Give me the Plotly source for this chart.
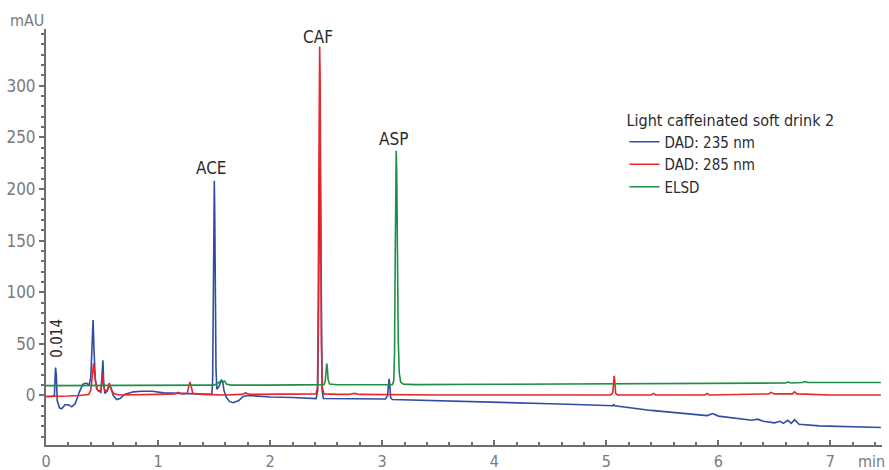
#!/usr/bin/env python3
"""
Chromatogram of a light caffeinated soft drink: DAD 235 nm, DAD 285 nm and ELSD
traces, with ACE / CAF / ASP peaks labelled. Writes out.html.
"""

import plotly.graph_objects as go

# ---- data (time in min, signal in mAU) ----
dad235_time = [
    0.00, 0.05, 0.075, 0.085, 0.092, 0.10, 0.12, 0.14, 0.17, 0.20, 0.23, 0.26,
    0.30, 0.33, 0.36, 0.385, 0.40, 0.412, 0.42, 0.428, 0.44, 0.46, 0.49, 0.50,
    0.508, 0.515, 0.525, 0.545, 0.565, 0.58, 0.60, 0.63, 0.66, 0.70, 0.78, 0.85,
    0.95, 1.05, 1.15, 1.25, 1.35, 1.45, 1.48, 1.487, 1.493, 1.498, 1.502, 1.506,
    1.511, 1.517, 1.525, 1.54, 1.56, 1.575, 1.59, 1.61, 1.64, 1.67, 1.72, 1.76,
    1.80, 1.90, 2.00, 2.20, 2.41, 2.425, 2.433, 2.44, 2.445, 2.45, 2.456, 2.464,
    2.475, 2.70, 3.00, 3.03, 3.048, 3.056, 3.062, 3.068, 3.075, 3.09, 3.50, 4.00,
    4.50, 4.80, 5.06, 5.065, 5.075, 5.40, 5.80, 5.90, 5.95, 6.00, 6.30, 6.35,
    6.40, 6.50, 6.55, 6.58, 6.62, 6.65, 6.68, 6.72, 6.90, 7.20, 7.45,
]
dad235_mau = [
    -1, -1, 0, 27, 20, -5, -12, -13, -9, -9, -11, -8,
    4, 11, 12, 10, 18, 50, 73, 45, 15, 5, 3, 20,
    34, 12, 2, 4, 10, 7, 0, -4, -3, 1, 3.5, 4,
    4, 2.5, 2, 2, 1.5, 1, 1, 15, 80, 170, 208, 175,
    90, 25, 6, 8, 13, 14, 4, -2, -6, -7, -5, -1,
    0, -1, -1.5, -2, -3, 5, 100, 200, 235, 190, 80, 5,
    -3, -3, -3.5, -3.5, 0, 12, 16, 10, -2, -4, -5, -6.5,
    -8, -9, -10, -8.5, -10, -14.5, -18, -19.5, -17.5, -20, -24, -23,
    -25, -26.5, -25, -27, -24, -27, -23.5, -28, -29.5, -30, -31,
]

dad285_time = [
    0.00, 0.10, 0.20, 0.30, 0.38, 0.40, 0.415, 0.425, 0.435, 0.45, 0.47, 0.49,
    0.50, 0.507, 0.515, 0.53, 0.55, 0.565, 0.58, 0.60, 0.65, 0.80, 1.00, 1.15,
    1.18, 1.21, 1.26, 1.275, 1.285, 1.295, 1.31, 1.40, 1.50, 1.60, 1.75, 1.78,
    1.82, 2.00, 2.20, 2.41, 2.422, 2.428, 2.434, 2.439, 2.442, 2.446, 2.451,
    2.457, 2.465, 2.48, 2.60, 2.70, 2.75, 2.80, 3.50, 4.00, 4.50, 5.04, 5.058,
    5.064, 5.07, 5.076, 5.083, 5.10, 5.40, 5.42, 5.44, 5.88, 5.90, 5.92, 6.45,
    6.47, 6.50, 6.66, 6.68, 6.70, 7.00, 7.45,
]
dad285_mau = [
    -1, -1, -0.5, 0, 1, 5, 20, 31, 20, 7, 4, 5,
    14, 21, 8, 4, 6, 12, 7, 2, 0.5, 0.5, 1, 1.5,
    3, 1.5, 2, 9, 13, 9, 2, 1, 0.5, 0.5, 1, 2.5,
    1, 1, 1, 1.5, 8, 60, 200, 325, 338, 310, 180,
    50, 8, 1.5, 1, 1, 2, 1, 0.5, 0.5, 0.5, 0.5, 3,
    14, 19, 13, 2, 0.5, 0.5, 2, 0.5, 0.5, 2, 0.5, 1.5,
    3, 1.5, 1.5, 3.5, 1.5, 0.5, 0.5,
]

elsd_time = [
    0.00, 0.50, 1.00, 1.45, 1.50, 1.55, 1.565, 1.58, 1.595, 1.61, 1.65, 2.00,
    2.40, 2.48, 2.492, 2.50, 2.505, 2.51, 2.518, 2.53, 2.60, 3.00, 3.09, 3.103,
    3.11, 3.116, 3.121, 3.125, 3.13, 3.136, 3.143, 3.152, 3.165, 3.19, 3.30,
    4.00, 5.00, 6.00, 6.50, 6.60, 6.62, 6.65, 6.75, 6.77, 6.80, 7.00, 7.45,
]
elsd_mau = [
    9.5, 9.5, 9.7, 9.8, 10, 13, 15, 13, 14, 11, 10, 10,
    10.2, 10.5, 14, 27, 31, 27, 15, 11, 10.3, 10.4, 10.5, 14,
    40, 130, 215, 237, 215, 130, 55, 22, 13, 11, 10.5,
    10.8, 11, 11.3, 11.7, 12, 13, 12, 12.5, 13.5, 12.5, 12.3, 12.5,
]

peak_names = ["ACE", "CAF", "ASP"]
peak_label_time = [1.48, 2.43, 3.10]
peak_label_mau = [220, 347, 248]

y_tick_values = [0, 50, 100, 150, 200, 250, 300]

series_names = ["DAD: 235 nm", "DAD: 285 nm", "ELSD"]
series_colors = ["#2f4ea3", "#e8262b", "#1f8f45"]

AXIS_GREY = "#6e6e6e"
TICK_GREY = "#7a7a7a"
TEXT_DARK = "#2b2b2b"
FONT = "Liberation Sans Narrow, DejaVu Sans Condensed, Arial Narrow, sans-serif"


def build_figure() -> go.Figure:
    fig = go.Figure()
    traces = [
        (dad235_time, dad235_mau),
        (dad285_time, dad285_mau),
        (elsd_time, elsd_mau),
    ]
    for (t, v), name, color in zip(traces, series_names, series_colors):
        fig.add_trace(
            go.Scatter(
                x=t,
                y=v,
                mode="lines",
                name=name,
                line=dict(color=color, width=1.6),
            )
        )

    for name, t, v in zip(peak_names, peak_label_time, peak_label_mau):
        fig.add_annotation(
            x=t, y=v, text=name, showarrow=False,
            font=dict(size=17, color=TEXT_DARK),
        )
    # small marker value near the injection peak
    fig.add_annotation(
        x=0.098, y=56, text="0.014", textangle=-90, showarrow=False,
        font=dict(size=15, color=TEXT_DARK),
    )
    fig.add_annotation(
        xref="paper", yref="paper", x=0, y=1.02, xanchor="right",
        yanchor="middle", text="mAU", showarrow=False,
        font=dict(size=16, color=TICK_GREY),
    )
    fig.add_annotation(
        xref="paper", yref="paper", x=1.006, y=-0.04, xanchor="right",
        yanchor="middle", text="min", showarrow=False,
        font=dict(size=16, color=TICK_GREY),
    )

    fig.update_xaxes(
        range=[0, 7.46],
        automargin=False,
        showgrid=False,
        zeroline=False,
        showline=True,
        linecolor=AXIS_GREY,
        linewidth=2,
        ticks="inside",
        ticklen=5,
        tickwidth=2,
        tickcolor=AXIS_GREY,
        dtick=1,
        tick0=0,
        ticklabelstandoff=1,
        tickfont=dict(size=16, color=TICK_GREY),
        minor=dict(dtick=0.2, tick0=0, ticks="inside", ticklen=3,
                   tickwidth=2, tickcolor=AXIS_GREY),
    )
    fig.update_yaxes(
        range=[-48, 355],
        automargin=False,
        showgrid=False,
        zeroline=False,
        showline=True,
        linecolor=AXIS_GREY,
        linewidth=2,
        ticks="outside",
        ticklen=5,
        tickwidth=2,
        tickcolor=AXIS_GREY,
        tickmode="array",
        tickvals=y_tick_values,
        tickfont=dict(size=17, color=TICK_GREY),
        minor=dict(dtick=10, tick0=0, ticks="outside", ticklen=3,
                   tickwidth=2, tickcolor=AXIS_GREY),
    )
    fig.update_layout(
        width=889,
        height=470,
        margin=dict(l=46, r=7, t=29, b=25),
        plot_bgcolor="white",
        paper_bgcolor="white",
        font=dict(family=FONT, size=16, color=TEXT_DARK),
        showlegend=True,
        legend=dict(
            title=dict(text="Light caffeinated soft drink 2",
                       font=dict(size=16, color=TEXT_DARK)),
            x=0.692,
            y=0.818,
            xanchor="left",
            yanchor="top",
            bgcolor="rgba(0,0,0,0)",
            font=dict(size=15, color=TEXT_DARK),
            tracegroupgap=0,
        ),
    )
    return fig


def main() -> None:
    fig = build_figure()
    # drop the default body margin so the 889x470 figure fills the window
    fig.write_html(
        "out.html",
        config={"displayModeBar": False},
        post_script="document.body.style.margin = '0';",
    )


if __name__ == "__main__":
    main()
